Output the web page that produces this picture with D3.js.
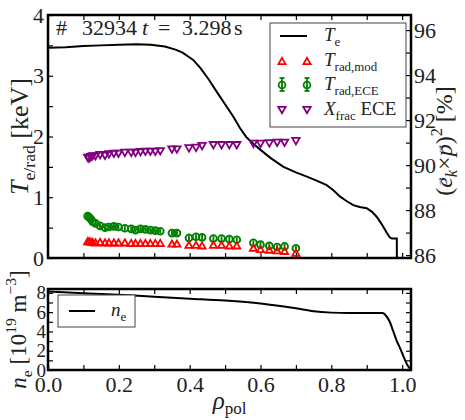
<!DOCTYPE html>
<html>
<head>
<meta charset="utf-8">
<script src="https://cdn.jsdelivr.net/npm/d3@7"></script>
<style>
  body { margin: 0; background: #fff; }
  svg text { font-family: "Liberation Serif", "DejaVu Serif", serif; white-space: pre; }
</style>
</head>
<body>
<div id="chart"></div>
<script>
// --- data ---
// electron temperature profile (keV)
const rhoTe = [0, 0.05, 0.10, 0.15, 0.20, 0.25, 0.29, 0.33, 0.36, 0.38, 0.41, 0.43, 0.455, 0.477, 0.50,
  0.523, 0.542, 0.56, 0.58, 0.60, 0.63, 0.665, 0.70, 0.731, 0.76, 0.787, 0.805, 0.825, 0.845, 0.862,
  0.88, 0.90, 0.915, 0.928, 0.943, 0.957, 0.965, 0.971, 0.985, 0.9851];
const te = [3.46, 3.47, 3.49, 3.50, 3.51, 3.52, 3.51, 3.48, 3.43, 3.38, 3.26, 3.13, 2.93, 2.73, 2.53,
  2.33, 2.14, 1.99, 1.88, 1.78, 1.64, 1.50, 1.41, 1.34, 1.27, 1.20, 1.12, 1.01, 0.93, 0.87,
  0.84, 0.82, 0.76, 0.68, 0.55, 0.41, 0.34, 0.32, 0.32, -0.2];

// ECE channels
const rhoEce = [0.112, 0.116, 0.121, 0.126, 0.134, 0.147, 0.161, 0.172, 0.186, 0.199, 0.217, 0.235, 0.247,
  0.261, 0.275, 0.289, 0.303, 0.317, 0.35, 0.364, 0.398, 0.418, 0.435, 0.467, 0.49, 0.512, 0.533,
  0.58, 0.60, 0.625, 0.647, 0.668, 0.70];
const tradMod = [0.26, 0.26, 0.25, 0.25, 0.24, 0.25, 0.24, 0.24, 0.24, 0.24, 0.24, 0.23, 0.23,
  0.23, 0.23, 0.23, 0.23, 0.23, 0.22, 0.22, 0.20, 0.20, 0.19, 0.20, 0.20, 0.19, 0.19,
  0.15, 0.13, 0.12, 0.11, 0.10, 0.07];
const tradEce = [0.69, 0.67, 0.64, 0.60, 0.57, 0.53, 0.50, 0.51, 0.52, 0.51, 0.49, 0.48, 0.46,
  0.48, 0.47, 0.46, 0.45, 0.44, 0.41, 0.41, 0.33, 0.35, 0.34, 0.32, 0.32, 0.31, 0.30,
  0.25, 0.22, 0.20, 0.18, 0.19, 0.16];
const tradEceErr = [0.05, 0.05, 0.05, 0.05, 0.04, 0.04, 0.04, 0.04, 0.04, 0.04, 0.04, 0.04, 0.04,
  0.04, 0.04, 0.04, 0.04, 0.04, 0.04, 0.04, 0.04, 0.04, 0.04, 0.04, 0.04, 0.04, 0.04,
  0.04, 0.04, 0.04, 0.04, 0.04, 0.04];
// X-mode fraction, right axis (%)
const xfrac = [90.37, 90.33, 90.40, 90.44, 90.44, 90.49, 90.46, 90.52, 90.55, 90.55, 90.59, 90.59, 90.59,
  90.62, 90.64, 90.64, 90.64, 90.66, 90.74, 90.74, 90.79, 90.81, 90.89, 90.93, 90.93, 90.93, 90.93,
  90.99, 90.99, 91.01, 91.04, 91.04, 91.11];

// electron density profile (1e19 m^-3)
const rhoNe = [0, 0.1, 0.2, 0.3, 0.4, 0.5, 0.6, 0.7, 0.75, 0.8, 0.85, 0.9, 0.945, 0.955, 0.965,
  0.975, 0.985, 0.995, 1.005, 1.015, 1.025];
const ne = [8.15, 7.95, 7.8, 7.6, 7.4, 7.2, 6.9, 6.4, 6.1, 5.95, 5.9, 5.9, 5.9, 5.6, 5.0,
  4.0, 3.0, 2.2, 1.3, 0.5, 0.05];

const xTicks = [0, 0.1, 0.2, 0.3, 0.4, 0.5, 0.6, 0.7, 0.8, 0.9, 1.0];
const xLabels = [0, 0.2, 0.4, 0.6, 0.8, 1.0];
const yTeTicks = [0, 0.5, 1, 1.5, 2, 2.5, 3, 3.5, 4];
const yRTicks = [86, 87, 88, 89, 90, 91, 92, 93, 94, 95, 96];
const yNeTicks = [0, 1, 2, 3, 4, 5, 6, 7, 8];

// --- layout ---
const W = 465, H = 420;
const L = 48, R = 411;
const top1 = 15, bot1 = 258;
const top2 = 289, bot2 = 370;
const fs = 21;
const serif = '"Liberation Serif", "DejaVu Serif", serif';

const svg = d3.select("#chart").append("svg").attr("width", W).attr("height", H);

const x = d3.scaleLinear().domain([0, 1.025]).range([L, R]);
const yT = d3.scaleLinear().domain([0, 4]).range([bot1, top1]);
const yR = d3.scaleLinear().domain([85.87, 96.67]).range([bot1, top1]);
const yN = d3.scaleLinear().domain([0, 8.4]).range([bot2, top2]);

// rich text with sub/superscripts
function rich(sel, parts, size) {
  let shift = 0;
  parts.forEach(p => {
    const target = p.sub ? size * (p.subShift || 0.28) : p.sup ? -size * 0.42 : 0;
    sel.append("tspan")
      .attr("dy", target - shift)
      .style("font-size", (p.sub || p.sup ? size * 0.68 : size) + "px")
      .style("font-style", p.it ? "italic" : "normal")
      .text(p.t);
    shift = target;
  });
  return sel;
}

function styleAxis(g, size) {
  g.attr("font-family", serif);
  g.select(".domain").remove();
  g.selectAll(".tick line").attr("stroke", "#000").attr("stroke-width", 1.2);
  g.selectAll(".tick text").style("font-size", (size || fs) + "px").attr("fill", "#222")
    .style("font-family", serif);
}

// clip paths
svg.append("clipPath").attr("id", "c1").append("rect")
  .attr("x", L).attr("y", top1).attr("width", R - L).attr("height", bot1 - top1);
svg.append("clipPath").attr("id", "c2").append("rect")
  .attr("x", L).attr("y", top2).attr("width", R - L).attr("height", bot2 - top2);

// ---------- top panel ----------
svg.append("g").attr("transform", `translate(0,${bot1})`)
  .call(d3.axisBottom(x).tickValues(xTicks).tickSize(-5).tickFormat("")).call(styleAxis);
svg.append("g").attr("transform", `translate(0,${top1})`)
  .call(d3.axisTop(x).tickValues(xTicks).tickSize(-5).tickFormat("")).call(styleAxis);
svg.append("g").attr("transform", `translate(${L},0)`)
  .call(d3.axisLeft(yT).tickValues(yTeTicks).tickSize(-5).tickPadding(4)
    .tickFormat(d => Number.isInteger(d) ? d : "")).call(g => styleAxis(g, 22));
svg.append("g").attr("transform", `translate(${R},0)`)
  .call(d3.axisRight(yR).tickValues(yRTicks).tickSize(-5).tickPadding(3)
    .tickFormat(d => d % 2 === 0 ? d : "")).call(g => styleAxis(g, 22));

const p1 = svg.append("g").attr("clip-path", "url(#c1)");

const teLine = d3.line().x((d, i) => x(rhoTe[i])).y(d => yT(d));
p1.append("path").datum(te).attr("d", teLine)
  .attr("fill", "none").attr("stroke", "#000").attr("stroke-width", 2);

const triUp = d3.symbol().type(d3.symbolTriangle).size(22);
const triDown = d3.symbol().type(d3.symbolTriangle).size(24);

// X_frac ECE (right axis)
p1.append("g").selectAll("path").data(xfrac).enter().append("path")
  .attr("d", triDown)
  .attr("transform", (d, i) => `translate(${x(rhoEce[i])},${yR(d)}) rotate(180)`)
  .attr("fill", "none").attr("stroke", "#800080").attr("stroke-width", 1.8);

// T_rad,ECE with error bars
const ece = p1.append("g").selectAll("g").data(tradEce).enter().append("g")
  .attr("stroke", "#008000").attr("stroke-width", 1.9).attr("fill", "none");
ece.append("line")
  .attr("x1", (d, i) => x(rhoEce[i])).attr("x2", (d, i) => x(rhoEce[i]))
  .attr("y1", (d, i) => yT(d - tradEceErr[i])).attr("y2", (d, i) => yT(d + tradEceErr[i]));
ece.append("circle")
  .attr("cx", (d, i) => x(rhoEce[i])).attr("cy", d => yT(d)).attr("r", 3.4);

// T_rad,mod
p1.append("g").selectAll("path").data(tradMod).enter().append("path")
  .attr("d", triUp)
  .attr("transform", (d, i) => `translate(${x(rhoEce[i])},${yT(d)})`)
  .attr("fill", "none").attr("stroke", "#ff0000").attr("stroke-width", 1.8);

svg.append("rect").attr("x", L).attr("y", top1).attr("width", R - L).attr("height", bot1 - top1)
  .attr("fill", "none").attr("stroke", "#000").attr("stroke-width", 2.5);

// title
const title = svg.append("text").attr("y", 35).style("font-size", "22px").attr("fill", "#222");
title.append("tspan").attr("x", 56).text("#");
title.append("tspan").attr("x", 82).text("32934");
title.append("tspan").attr("x", 142).style("font-style", "italic").text("t");
title.append("tspan").attr("x", 158).text("=");
title.append("tspan").attr("x", 182).text("3.298");
title.append("tspan").attr("x", 234).text("s");

// legend (top)
const lg = svg.append("g");
lg.append("rect").attr("x", 270).attr("y", 23).attr("width", 136).attr("height", 104)
  .attr("fill", "#fff").attr("stroke", "#444").attr("stroke-width", 1);
lg.append("line").attr("x1", 280).attr("x2", 307).attr("y1", 36).attr("y2", 36)
  .attr("stroke", "#000").attr("stroke-width", 2);
[282, 307].forEach(mx => {
  lg.append("path").attr("d", triUp).attr("transform", `translate(${mx},62)`)
    .attr("fill", "none").attr("stroke", "#ff0000").attr("stroke-width", 1.8);
  const g = lg.append("g").attr("stroke", "#008000").attr("stroke-width", 1.8).attr("fill", "none");
  g.append("line").attr("x1", mx).attr("x2", mx).attr("y1", 78).attr("y2", 91);
  g.append("line").attr("x1", mx - 2.5).attr("x2", mx + 2.5).attr("y1", 78).attr("y2", 78);
  g.append("line").attr("x1", mx - 2.5).attr("x2", mx + 2.5).attr("y1", 91).attr("y2", 91);
  g.append("circle").attr("cx", mx).attr("cy", 85).attr("r", 3.4);
  lg.append("path").attr("d", triDown).attr("transform", `translate(${mx},109) rotate(180)`)
    .attr("fill", "none").attr("stroke", "#800080").attr("stroke-width", 1.8);
});
const lfs = 19;
rich(lg.append("text").attr("x", 324).attr("y", 41).attr("fill", "#222"),
  [{t: "T", it: true}, {t: "e", sub: true}], lfs);
rich(lg.append("text").attr("x", 324).attr("y", 66).attr("fill", "#222"),
  [{t: "T", it: true}, {t: "rad,mod", sub: true}], lfs);
rich(lg.append("text").attr("x", 324).attr("y", 90).attr("fill", "#222"),
  [{t: "T", it: true}, {t: "rad,ECE", sub: true}], lfs);
rich(lg.append("text").attr("x", 324).attr("y", 115).attr("fill", "#222"),
  [{t: "X", it: true}, {t: "frac", sub: true}, {t: " ECE"}], lfs);

// ---------- bottom panel ----------
svg.append("g").attr("transform", `translate(0,${bot2})`)
  .call(d3.axisBottom(x).tickValues(xTicks).tickSize(-5).tickPadding(6)
    .tickFormat(d => xLabels.some(v => Math.abs(v - d) < 1e-9) ? d3.format(".1f")(d) : ""))
  .call(g => styleAxis(g, 22));
svg.append("g").attr("transform", `translate(0,${top2})`)
  .call(d3.axisTop(x).tickValues(xTicks).tickSize(-5).tickFormat("")).call(styleAxis);
svg.append("g").attr("transform", `translate(${L},0)`)
  .call(d3.axisLeft(yN).tickValues(yNeTicks).tickSize(-5).tickPadding(2)
    .tickFormat(d => d % 2 === 0 ? d : "")).call(g => styleAxis(g, 19));
svg.append("g").attr("transform", `translate(${R},0)`)
  .call(d3.axisRight(yN).tickValues(yNeTicks).tickSize(-5).tickFormat("")).call(styleAxis);

const p2 = svg.append("g").attr("clip-path", "url(#c2)");
const neLine = d3.line().x((d, i) => x(rhoNe[i])).y(d => yN(d)).curve(d3.curveMonotoneX);
p2.append("path").datum(ne).attr("d", neLine)
  .attr("fill", "none").attr("stroke", "#000").attr("stroke-width", 2);

svg.append("rect").attr("x", L).attr("y", top2).attr("width", R - L).attr("height", bot2 - top2)
  .attr("fill", "none").attr("stroke", "#000").attr("stroke-width", 2.5);

// legend (bottom)
svg.append("rect").attr("x", 58).attr("y", 295).attr("width", 77).attr("height", 32)
  .attr("fill", "#fff").attr("stroke", "#444").attr("stroke-width", 1);
svg.append("line").attr("x1", 69).attr("x2", 95).attr("y1", 311).attr("y2", 311)
  .attr("stroke", "#000").attr("stroke-width", 2);
rich(svg.append("text").attr("x", 111).attr("y", 316).attr("fill", "#222"),
  [{t: "n", it: true}, {t: "e", sub: true}], lfs);

// ---------- axis labels ----------
rich(svg.append("text").attr("text-anchor", "middle").attr("fill", "#222")
  .attr("transform", `translate(28,${(top1 + bot1) / 2}) rotate(-90)`),
  [{t: "T", it: true}, {t: "e/rad", sub: true}, {t: " [keV]"}], 26);

// right label, vector arrows drawn over e and p after layout
const rg = svg.append("g").attr("transform", `translate(452,141) rotate(-90)`);
const rl = rich(rg.append("text").attr("text-anchor", "middle").attr("fill", "#222"),
  [{t: "("}, {t: "e", it: true}, {t: "k", sub: true, it: true, subShift: 0.2}, {t: "\u00D7"},
   {t: "p", it: true}, {t: ")"}, {t: "2", sup: true}, {t: " [%]"}], 24);
[1, 4].forEach(ci => {
  const b = rl.node().getExtentOfChar(ci);
  rg.append("text").attr("text-anchor", "middle").attr("fill", "#222")
    .attr("x", b.x + b.width / 2 + 1.5).attr("y", b.y + b.height * 0.42)
    .style("font-size", "12px").text("\u2192");
});

rich(svg.append("text").attr("text-anchor", "middle").attr("fill", "#222")
  .attr("transform", `translate(26,${(top2 + bot2) / 2}) rotate(-90)`),
  [{t: "n", it: true}, {t: "e", sub: true}, {t: " [10"}, {t: "19", sup: true}, {t: " m"},
   {t: "\u22123", sup: true}, {t: "]"}], 23);

rich(svg.append("text").attr("text-anchor", "middle").attr("fill", "#222")
  .attr("transform", `translate(${(L + R) / 2},409)`),
  [{t: "\u03C1", it: true}, {t: "pol", sub: true, subShift: 0.18}], 25);
</script>
</body>
</html>
